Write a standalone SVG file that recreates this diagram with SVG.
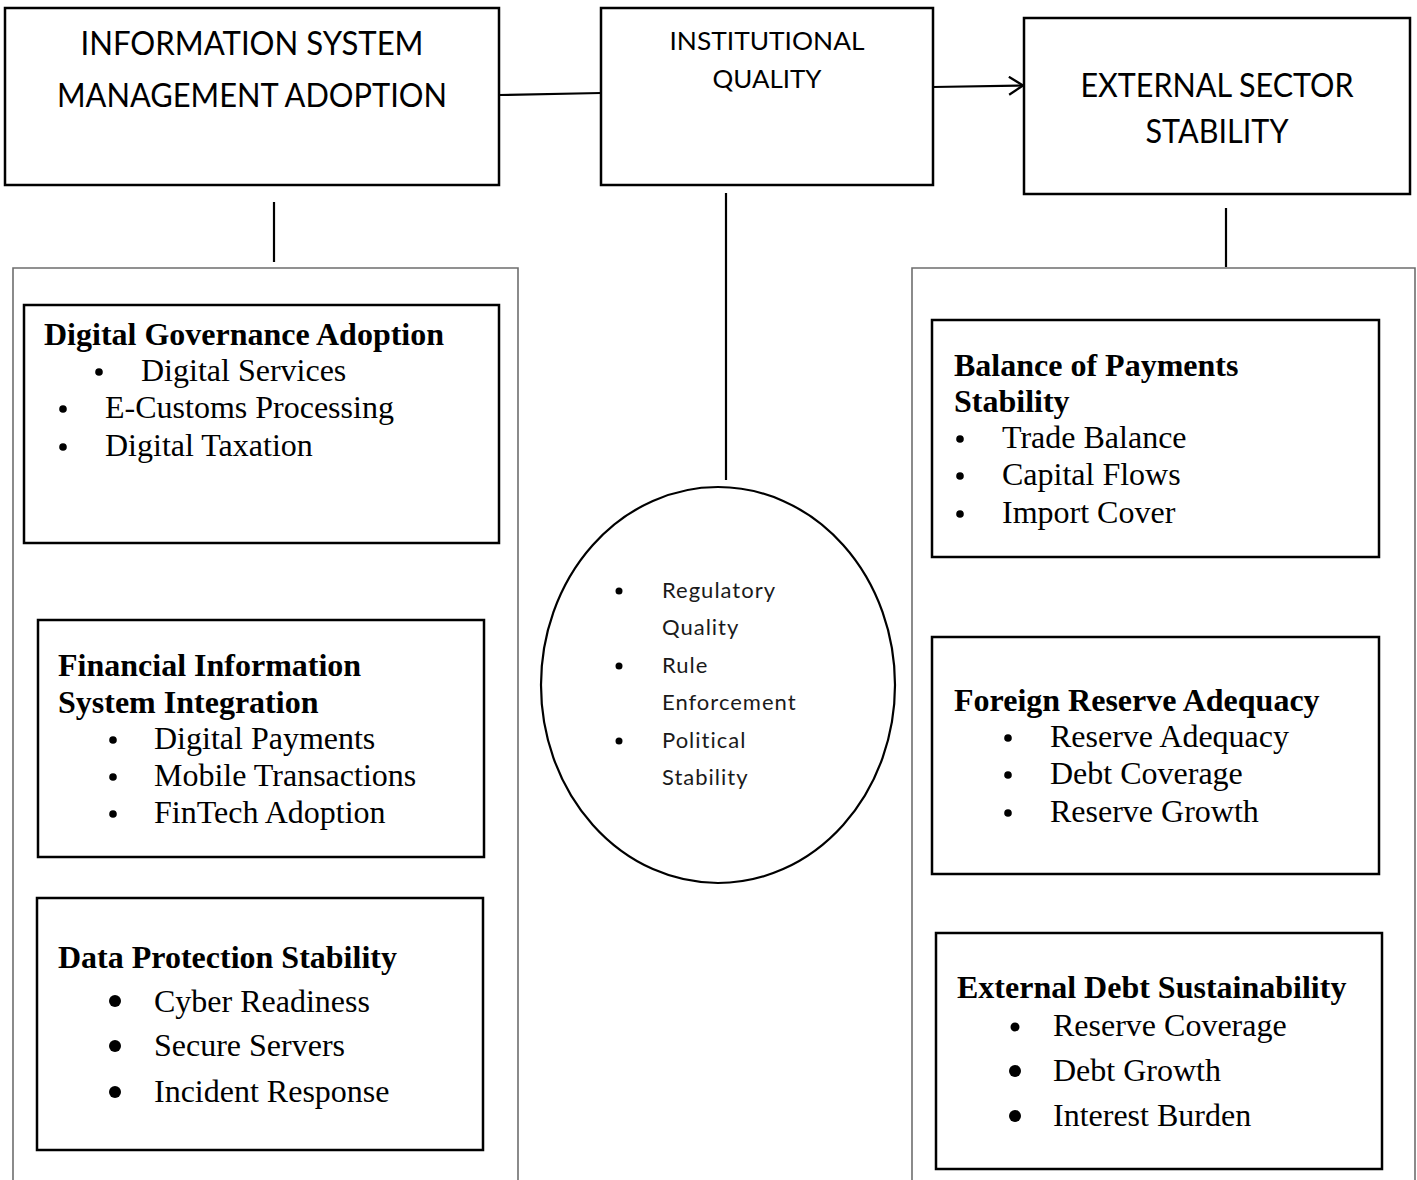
<svg xmlns="http://www.w3.org/2000/svg" width="1417" height="1180" viewBox="0 0 1417 1180">
  <style>
    .box { fill: #fff; stroke: #000; stroke-width: 2.5; }
    .panel { fill: none; stroke: #6e6e6e; stroke-width: 1.6; }
    .link { fill: none; stroke: #000; stroke-width: 2.2; }
    .title { font-family: Lato, "Liberation Sans", sans-serif; fill: #000; text-anchor: middle; }
    .circ { font-family: Lato, "Liberation Sans", sans-serif; font-weight: 400; font-size: 22px; letter-spacing: 1px; fill: #1a1a1a; }
    .head { font-family: "Liberation Serif", serif; font-weight: bold; font-size: 32px; fill: #000; }
    .item { font-family: "Liberation Serif", serif; font-size: 32px; fill: #000; }
    .dot { fill: #000; }
  </style>
  <defs>
    <marker id="open-arrow" viewBox="0 0 16 20" refX="15" refY="10" markerWidth="16" markerHeight="20" markerUnits="userSpaceOnUse" orient="auto">
      <path d="M1,1 L15,10 L1,19" fill="none" stroke="#000" stroke-width="2.2"/>
    </marker>
  </defs>

  <rect width="1417" height="1180" fill="#fff"/>

  <!-- side panels -->
  <path class="panel" d="M13,1180 V268 H518 V1180"/>
  <path class="panel" d="M912,1180 V268 H1415 V1180"/>

  <!-- connectors -->
  <g id="connectors">
    <line class="link" x1="499" y1="95" x2="601" y2="93"/>
    <line class="link" x1="933" y1="87" x2="1023" y2="85.5" marker-end="url(#open-arrow)"/>
    <line class="link" x1="274" y1="202" x2="274" y2="262"/>
    <line class="link" x1="726" y1="193" x2="726" y2="480"/>
    <line class="link" x1="1226" y1="208" x2="1226" y2="267"/>
  </g>

  <!-- top level constructs -->
  <g id="ism-adoption">
    <rect class="box" x="5" y="8" width="494" height="177"/>
    <text class="title" x="252" y="55" font-size="32" textLength="343" lengthAdjust="spacingAndGlyphs">INFORMATION SYSTEM</text>
    <text class="title" x="252" y="107" font-size="32" textLength="390" lengthAdjust="spacingAndGlyphs">MANAGEMENT ADOPTION</text>
  </g>

  <g id="institutional-quality">
    <rect class="box" x="601" y="8" width="332" height="177"/>
    <text class="title" x="767" y="50" font-size="25" textLength="195" lengthAdjust="spacingAndGlyphs">INSTITUTIONAL</text>
    <text class="title" x="767" y="88" font-size="25" textLength="109" lengthAdjust="spacingAndGlyphs">QUALITY</text>
  </g>

  <g id="external-sector">
    <rect class="box" x="1024" y="18" width="386" height="176"/>
    <text class="title" x="1217" y="97" font-size="33" textLength="273" lengthAdjust="spacingAndGlyphs">EXTERNAL SECTOR</text>
    <text class="title" x="1217" y="143" font-size="33" textLength="143" lengthAdjust="spacingAndGlyphs">STABILITY</text>
  </g>

  <!-- institutional quality indicators -->
  <g id="iq-indicators">
    <ellipse cx="718" cy="685" rx="177" ry="198" fill="#fff" stroke="#000" stroke-width="2.2"/>
    <circle class="dot" cx="619" cy="591" r="3.5"/>
    <circle class="dot" cx="619" cy="666" r="3.5"/>
    <circle class="dot" cx="619" cy="741" r="3.5"/>
    <text class="circ" x="662" y="598">Regulatory</text>
    <text class="circ" x="662" y="635">Quality</text>
    <text class="circ" x="662" y="673">Rule</text>
    <text class="circ" x="662" y="710">Enforcement</text>
    <text class="circ" x="662" y="748">Political</text>
    <text class="circ" x="662" y="785">Stability</text>
  </g>

  <!-- ISM adoption dimensions -->
  <g id="digital-governance">
    <rect class="box" x="24" y="305" width="475" height="238"/>
    <text class="head" x="44" y="345">Digital Governance Adoption</text>
    <circle class="dot" cx="99" cy="372" r="3.8"/>
    <text class="item" x="141" y="381">Digital Services</text>
    <circle class="dot" cx="63" cy="409" r="3.8"/>
    <text class="item" x="105" y="418">E-Customs Processing</text>
    <circle class="dot" cx="63" cy="447" r="3.8"/>
    <text class="item" x="105" y="456">Digital Taxation</text>
  </g>

  <g id="financial-is">
    <rect class="box" x="38" y="620" width="446" height="237"/>
    <text class="head" x="58" y="676">Financial Information</text>
    <text class="head" x="58" y="713">System Integration</text>
    <circle class="dot" cx="113" cy="740" r="3.8"/>
    <text class="item" x="154" y="749">Digital Payments</text>
    <circle class="dot" cx="113" cy="777" r="3.8"/>
    <text class="item" x="154" y="786">Mobile Transactions</text>
    <circle class="dot" cx="113" cy="814" r="3.8"/>
    <text class="item" x="154" y="823">FinTech Adoption</text>
  </g>

  <g id="data-protection">
    <rect class="box" x="37" y="898" width="446" height="252"/>
    <text class="head" x="58" y="968">Data Protection Stability</text>
    <circle class="dot" cx="115" cy="1001" r="6"/>
    <text class="item" x="154" y="1012">Cyber Readiness</text>
    <circle class="dot" cx="115" cy="1046" r="6"/>
    <text class="item" x="154" y="1056">Secure Servers</text>
    <circle class="dot" cx="115" cy="1092" r="6"/>
    <text class="item" x="154" y="1102">Incident Response</text>
  </g>

  <!-- external sector dimensions -->
  <g id="bop-stability">
    <rect class="box" x="932" y="320" width="447" height="237"/>
    <text class="head" x="954" y="376">Balance of Payments</text>
    <text class="head" x="954" y="412">Stability</text>
    <circle class="dot" cx="960" cy="439" r="3.8"/>
    <text class="item" x="1002" y="448">Trade Balance</text>
    <circle class="dot" cx="960" cy="476" r="3.8"/>
    <text class="item" x="1002" y="485">Capital Flows</text>
    <circle class="dot" cx="960" cy="514" r="3.8"/>
    <text class="item" x="1002" y="523">Import Cover</text>
  </g>

  <g id="reserve-adequacy">
    <rect class="box" x="932" y="637" width="447" height="237"/>
    <text class="head" x="954" y="711">Foreign Reserve Adequacy</text>
    <circle class="dot" cx="1008" cy="738" r="3.8"/>
    <text class="item" x="1050" y="747">Reserve Adequacy</text>
    <circle class="dot" cx="1008" cy="775" r="3.8"/>
    <text class="item" x="1050" y="784">Debt Coverage</text>
    <circle class="dot" cx="1008" cy="813" r="3.8"/>
    <text class="item" x="1050" y="822">Reserve Growth</text>
  </g>

  <g id="debt-sustainability">
    <rect class="box" x="936" y="933" width="446" height="236"/>
    <text class="head" x="957" y="998">External Debt Sustainability</text>
    <circle class="dot" cx="1015" cy="1027" r="4.5"/>
    <text class="item" x="1053" y="1036">Reserve Coverage</text>
    <circle class="dot" cx="1015" cy="1071" r="6"/>
    <text class="item" x="1053" y="1081">Debt Growth</text>
    <circle class="dot" cx="1015" cy="1116" r="6"/>
    <text class="item" x="1053" y="1126">Interest Burden</text>
  </g>
</svg>
